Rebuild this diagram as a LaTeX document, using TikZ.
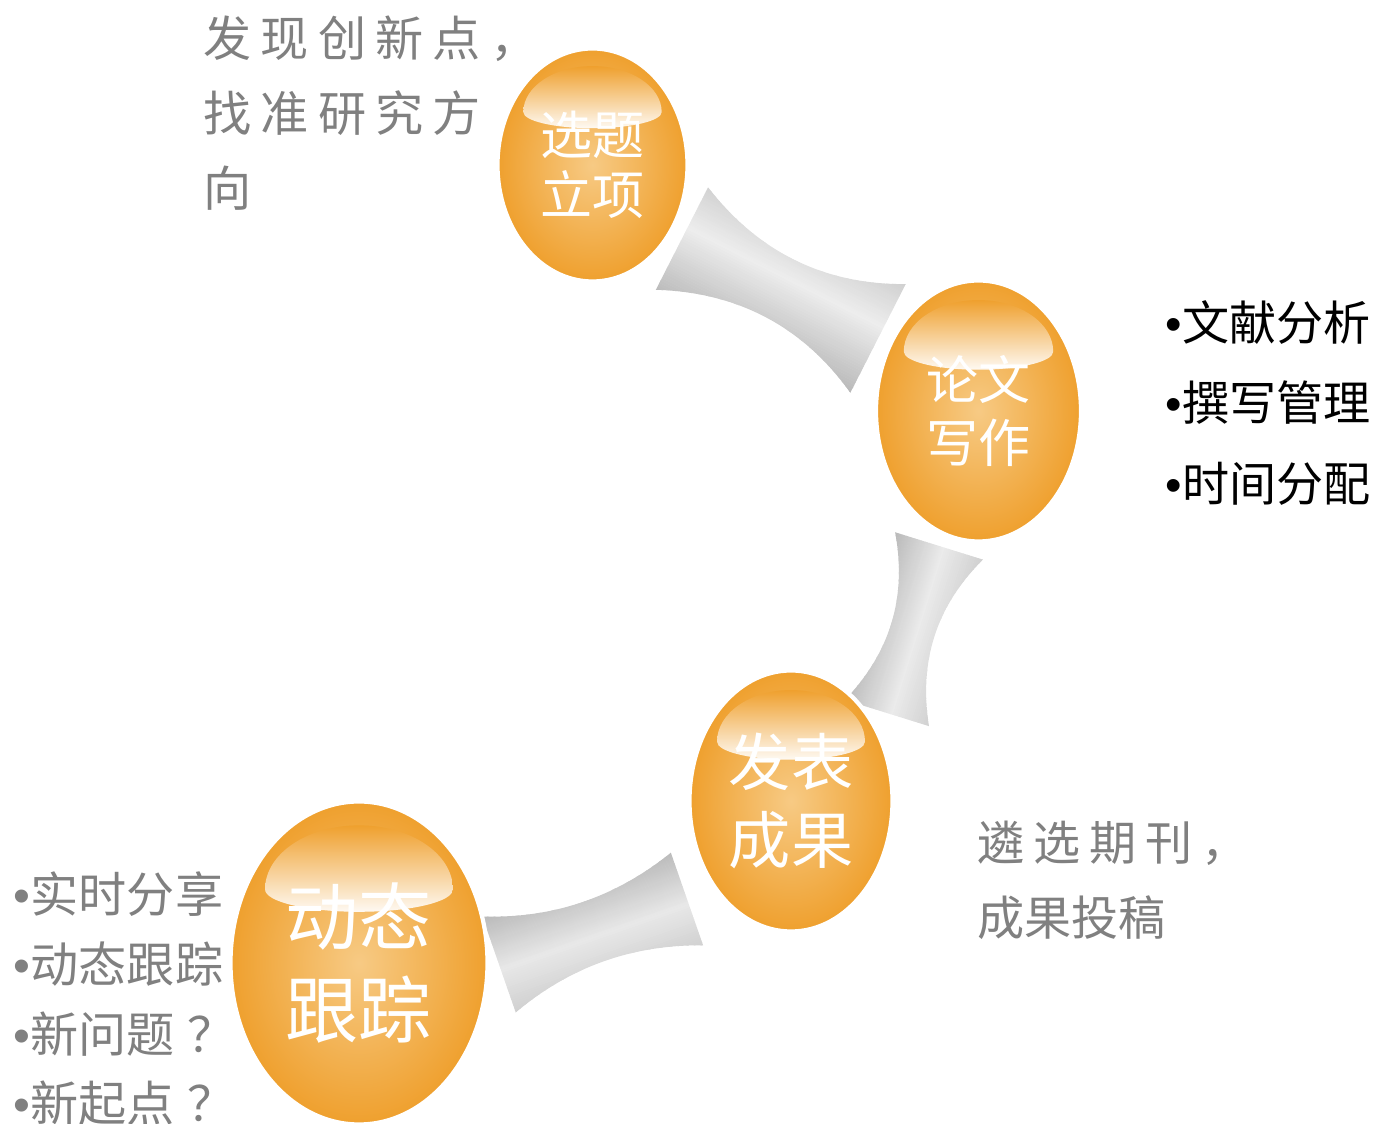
\documentclass[tikz,border=0pt]{standalone}
\usepackage{fontspec}
\setmainfont{Noto Sans CJK SC}
\newfontfamily\cjkwide[LetterSpace=19]{Noto Sans CJK SC}
\newfontfamily\dotfont{Liberation Sans}
\usetikzlibrary{shapes.geometric,calc}

\definecolor{eggout}{RGB}{239,160,46}
\definecolor{eggin}{RGB}{247,202,132}
\definecolor{notegray}{RGB}{128,128,128}

\tikzset{
  egg/.style={ellipse, inner sep=0pt, draw=white, line width=1.2pt,
    inner color=eggin, outer color=eggout},
  eggtext/.style={inner sep=0pt, text=white, align=center},
  note/.style={anchor=west, align=left, inner sep=0pt, text=notegray},
  list/.style={anchor=west, align=left, inner sep=0pt, text=black}
}

% glossy cap on top of an egg: node, x radius, y radius
\newcommand{\gloss}[3]{%
  \shade[top color=eggout, middle color=eggout!25!white, bottom color=eggout!6!white]
    ($(#1.center)+(-0.74*#2,0.46*#3)$)
    arc[start angle=180, end angle=0, x radius=0.74*#2, y radius=0.40*#3]
    arc[start angle=0, end angle=-180, x radius=0.74*#2, y radius=0.14*#3] -- cycle;}

% grey band across a link: half length, half width, top, middle, bottom (black %), middle position
\newcommand{\barfill}[6]{%
  \foreach \i in {0,...,47}{
    \pgfmathsetmacro\barya{-#2+\i*#2/24}
    \pgfmathsetmacro\baryb{\barya+#2/24+0.004}
    \pgfmathsetmacro\bars{(\i+0.5)/48}
    \pgfmathsetmacro\barpc{\bars<#6 ? #5+(#4-#5)*\bars/#6 : #4+(#3-#4)*(\bars-#6)/(1-#6)}
    \fill[black!\barpc] (-#1,\barya) rectangle (#1,\baryb);
  }}

\begin{document}
\begin{tikzpicture}
    \useasboundingbox (0,0) rectangle (13.79,-11.24);

    % grey links
    \begin{scope}[transform canvas={shift={(7.80,-2.885)},rotate=-27}]
    \clip (-1.10,0.575) .. controls (-0.37,0.23) and (0.37,0.23) .. (1.10,0.61)
      -- (1.10,-0.61) .. controls (0.37,-0.23) and (-0.37,-0.23) .. (-1.10,-0.575) -- cycle;
    \barfill{1.15}{0.63}{19}{7}{28}{0.6}
    \end{scope}
    \begin{scope}[transform canvas={shift={(9.13,-6.295)},rotate=72.7}]
    \clip (-0.875,0.44) .. controls (-0.29,0.15) and (0.29,0.15) .. (0.875,0.46)
      -- (0.875,-0.46) .. controls (0.29,-0.15) and (-0.29,-0.15) .. (-0.875,-0.44) -- cycle;
    \barfill{0.92}{0.48}{28}{8}{19}{0.45}
    \end{scope}
    \begin{scope}[transform canvas={shift={(5.93,-9.3175)},rotate=19.2}]
    \clip (-0.995,0.508) .. controls (-0.33,0.253) and (0.33,0.253) .. (0.995,0.49)
      -- (0.995,-0.49) .. controls (0.33,-0.253) and (-0.33,-0.253) .. (-0.995,-0.508) -- cycle;
    \barfill{1.04}{0.53}{28}{9}{19}{0.45}
    \end{scope}

    % eggs
    \node[egg, minimum width=1.90cm, minimum height=2.33cm] (xuanti) at (5.925,-1.65) {};
    \node[egg, minimum width=2.05cm, minimum height=2.61cm] (lunwen) at (9.785,-4.11) {};
    \node[egg, minimum width=2.03cm, minimum height=2.61cm] (fabiao) at (7.91,-8.01) {};
    \node[egg, minimum width=2.57cm, minimum height=3.23cm] (dongtai) at (3.59,-9.63) {};

    \gloss{xuanti}{0.935}{1.15}
    \gloss{lunwen}{1.01}{1.29}
    \gloss{fabiao}{1.00}{1.29}
    \gloss{dongtai}{1.27}{1.60}

    \node[eggtext, font=\fontsize{14.8}{17}\selectfont] (xuantitext) at (xuanti) {选题\\立项};
    \node[eggtext, font=\fontsize{14.8}{18}\selectfont] (lunwentext) at (lunwen) {论文\\写作};
    \node[eggtext, font=\fontsize{17.7}{22}\selectfont] (fabiaotext) at (fabiao) {发表\\成果};
    \node[eggtext, font=\fontsize{20.8}{26.5}\selectfont] (dongtaitext) at (dongtai) {动态\\跟踪};

    % notes
    \node[note, font=\cjkwide\fontsize{13.7}{21.3}\selectfont]
      (faxian) at (2.03,-1.13) {发现创新点，\\找准研究方\\向};
    \node[note, font=\fontsize{13.4}{21.3}\selectfont]
      (linxuan) at (9.77,-8.805) {{\cjkwide 遴选期刊，}\\成果投稿};
    \node[list, font=\fontsize{13.4}{23}\selectfont]
      (wenxian) at (11.65,-4.03) {{\dotfont •}文献分析\\{\dotfont •}撰写管理\\{\dotfont •}时间分配};
    \node[note, font=\fontsize{13.7}{19.8}\selectfont]
      (shishi) at (0.13,-9.99) {{\dotfont •}实时分享\\{\dotfont •}动态跟踪\\{\dotfont •}新问题\kern0.25em？\\{\dotfont •}新起点\kern0.25em？};

\end{tikzpicture}
\end{document}
